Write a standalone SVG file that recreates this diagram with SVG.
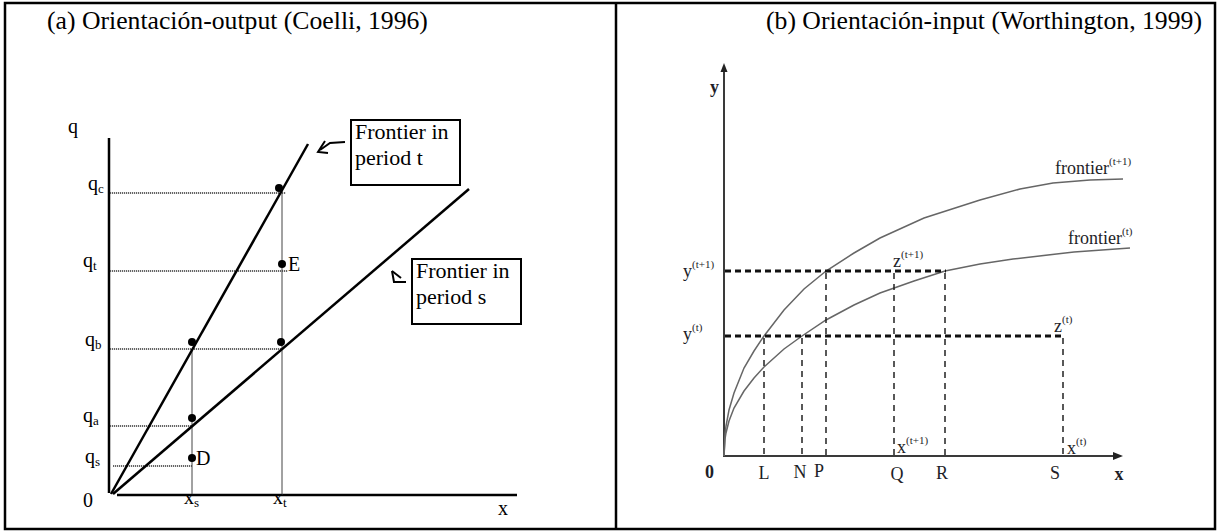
<svg xmlns="http://www.w3.org/2000/svg" width="1217" height="531" viewBox="0 0 1217 531">
<style>
text{font-family:'Liberation Serif','DejaVu Serif',serif}
.t{fill:#000}
.ttl{font-size:25.7px}
.lbl{font-size:20px}
.sub{font-size:13px}
.box{font-size:22px}
.r{fill:#1e1e28}
.rl{font-size:18px}
.rs{font-size:11px}
.ax{stroke:#000;stroke-width:2.5;fill:none}
.fr{stroke:#000;stroke-width:2.5;fill:none}
.dot{stroke:#333;stroke-width:1.5;stroke-dasharray:1.2 0.8;fill:none}
.vl{stroke:#444;stroke-width:1;fill:none}
.rax{stroke:#3a3a3a;stroke-width:2;fill:none}
.cv{stroke:#666;stroke-width:1.5;fill:none}
.hd{stroke:#111;stroke-width:3;stroke-dasharray:6 4;fill:none}
.vd{stroke:#222;stroke-width:1.5;stroke-dasharray:6 5;fill:none}
</style>
<rect x="0" y="0" width="1217" height="531" fill="#fff"/>
<g id="frame" fill="none" stroke="#000" stroke-width="2.5">
<rect x="5" y="3" width="1210" height="526"/>
<line x1="616" y1="3" x2="616" y2="529"/>
</g>
<g id="panel-a">
<text class="t ttl" x="47" y="29">(a) Orientación-output (Coelli, 1996)</text>
<g id="axes-a">
<line class="ax" x1="109" y1="138" x2="109" y2="493"/>
<line class="ax" x1="117" y1="495" x2="517" y2="495"/>
</g>
<g id="guides-a">
<line class="dot" x1="110" y1="193" x2="286" y2="193"/>
<line class="dot" x1="110" y1="271" x2="288" y2="271"/>
<line class="dot" x1="110" y1="349" x2="284" y2="349"/>
<line class="dot" x1="110" y1="426" x2="192" y2="426"/>
<line class="dot" x1="113" y1="466" x2="192" y2="466"/>
<line class="vl" x1="192" y1="349" x2="192" y2="495"/>
<line class="vl" x1="282" y1="190" x2="282" y2="495"/>
</g>
<g id="frontiers-a">
<line class="fr" x1="111" y1="494" x2="308" y2="144"/>
<line class="fr" x1="113" y1="494" x2="469" y2="189"/>
</g>
<g id="points-a" fill="#000">
<circle cx="279" cy="188" r="4"/>
<circle cx="282" cy="264" r="4"/>
<circle cx="192" cy="342" r="4"/>
<circle cx="281" cy="342" r="4"/>
<circle cx="192" cy="418" r="4"/>
<circle cx="192" cy="458" r="4"/>
</g>
<g id="labels-a">
<text class="t lbl" x="68" y="133">q</text>
<text class="t lbl" x="88" y="190">q<tspan class="sub" dy="3">c</tspan></text>
<text class="t lbl" x="83" y="267">q<tspan class="sub" dy="3">t</tspan></text>
<text class="t lbl" x="85" y="346">q<tspan class="sub" dy="3">b</tspan></text>
<text class="t lbl" x="83" y="422">q<tspan class="sub" dy="3">a</tspan></text>
<text class="t lbl" x="85" y="463">q<tspan class="sub" dy="3">s</tspan></text>
<text class="t lbl" x="83" y="507">0</text>
<text class="t lbl" x="184" y="504">x<tspan class="sub" dy="3">s</tspan></text>
<text class="t lbl" x="273" y="504">x<tspan class="sub" dy="3">t</tspan></text>
<text class="t lbl" x="498" y="515">x</text>
<text class="t lbl" x="288" y="271">E</text>
<text class="t lbl" x="196" y="465">D</text>
</g>
<g id="box-t">
<rect x="351" y="120" width="109" height="65" fill="#fff" stroke="#000" stroke-width="2"/>
<text class="t box" x="355" y="139">Frontier in</text>
<text class="t box" x="355" y="165">period t</text>
</g>
<g id="box-s">
<rect x="412" y="259" width="109" height="65" fill="#fff" stroke="#000" stroke-width="2"/>
<text class="t box" x="416" y="278">Frontier in</text>
<text class="t box" x="416" y="304">period s</text>
</g>
<g id="connectors" fill="none" stroke="#000" stroke-width="2" stroke-linejoin="miter">
<path d="M345,142 L330,143 L320,150"/>
<path d="M325,141 L318,152 L328,153"/>
<path d="M406,282 L394,282 L392,271"/>
<path d="M392,271 L401,278"/>
</g>
</g>
<g id="panel-b">
<text class="t ttl" x="766" y="29">(b) Orientación-input (Worthington, 1999)</text>
<g id="axes-b">
<line class="rax" x1="724" y1="70" x2="724" y2="457"/>
<line class="rax" x1="723" y1="456" x2="1114" y2="456"/>
<path d="M724,63 L720.5,72 L727.5,72 Z" fill="#222"/>
<path d="M1123,456 L1113,452 L1113,460 Z" fill="#222"/>
</g>
<g id="curves-b">
<path class="cv" id="frontier-t1" d="M724,456 L725,434 L726,426 L729,410 L734,393 L744,368 L754,351 L764,336 L784,310 L804,289 L826,271 L854,253 L880,238 L924,218 L980,200 L1020,189 L1053,183 L1090,180 L1123,179"/>
<path class="cv" id="frontier-t" d="M724,456 L725,439 L726,433 L729,421 L734,408 L744,391 L754,378 L764,367 L784,349 L802,336 L826,320 L854,305 L880,293 L914,281 L945,271 L980,264 L1013,259 L1074,252 L1130,248"/>
</g>
<g id="guides-b">
<line class="hd" x1="725" y1="271" x2="946" y2="271"/>
<line class="hd" x1="725" y1="336" x2="1064" y2="336"/>
<line class="vd" x1="764" y1="338" x2="764" y2="455"/>
<line class="vd" x1="802" y1="338" x2="802" y2="455"/>
<line class="vd" x1="826" y1="273" x2="826" y2="455"/>
<line class="vd" x1="894" y1="273" x2="894" y2="455"/>
<line class="vd" x1="945" y1="273" x2="945" y2="455"/>
<line class="vd" x1="1063" y1="338" x2="1063" y2="455"/>
</g>
<g id="labels-b">
<text class="r rl" x="710" y="93" font-weight="bold">y</text>
<text class="r rl" x="683" y="277">y<tspan class="rs" dy="-9">(t+1)</tspan></text>
<text class="r rl" x="683" y="340">y<tspan class="rs" dy="-9">(t)</tspan></text>
<text class="r rl" x="893" y="267">z<tspan class="rs" dy="-9">(t+1)</tspan></text>
<text class="r rl" x="1054" y="332">z<tspan class="rs" dy="-9">(t)</tspan></text>
<text class="r rl" x="897" y="453">x<tspan class="rs" dy="-9">(t+1)</tspan></text>
<text class="r rl" x="1067" y="454">x<tspan class="rs" dy="-9">(t)</tspan></text>
<text class="r rl" x="1055" y="174">frontier<tspan class="rs" dy="-9">(t+1)</tspan></text>
<text class="r rl" x="1068" y="244">frontier<tspan class="rs" dy="-9">(t)</tspan></text>
<text class="r rl" x="705" y="478" font-weight="bold">0</text>
<text class="r rl" x="764" y="479" text-anchor="middle">L</text>
<text class="r rl" x="800" y="478" text-anchor="middle">N</text>
<text class="r rl" x="819" y="477" text-anchor="middle">P</text>
<text class="r rl" x="897" y="480" text-anchor="middle">Q</text>
<text class="r rl" x="942" y="479" text-anchor="middle">R</text>
<text class="r rl" x="1055" y="479" text-anchor="middle">S</text>
<text class="r rl" x="1119" y="480" text-anchor="middle" font-weight="bold">x</text>
</g>
</g>
</svg>
